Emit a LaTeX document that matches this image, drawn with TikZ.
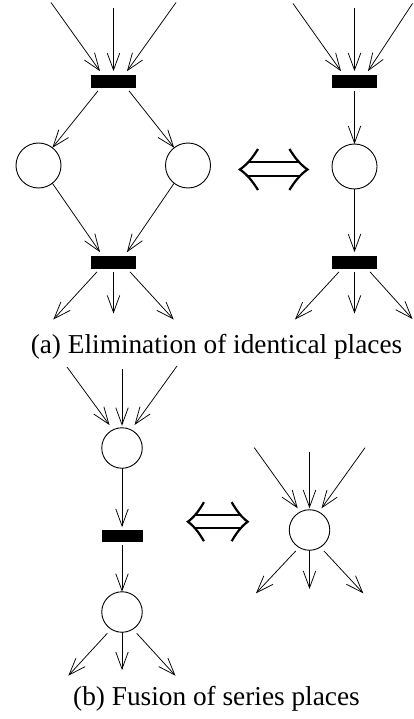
\documentclass[tikz,border=0pt]{standalone}
\usepackage{fontspec}
\setmainfont{Liberation Serif}
\usetikzlibrary{arrows.meta}

\begin{document}
\begin{tikzpicture}[x=1pt,y=-1pt,
  place/.style={circle, draw, line width=0.9pt, minimum size=45pt, inner sep=0pt, outer sep=0pt},
  smallplace/.style={place, minimum size=40.5pt},
  trans/.style={rectangle, fill=black, minimum width=45pt, minimum height=12.7pt, inner sep=0pt, outer sep=0pt},
  smalltrans/.style={trans, minimum width=41pt, minimum height=12pt},
  flow/.style={-{Straight Barb[length=17pt,width=12.5pt]}, line width=0.75pt},
  iffstroke/.style={line width=2.2pt, line join=miter},
  iffsign/.pic={
    % two curved heads and the double bar of the equivalence sign
    \draw[iffstroke] (-15.7,-20.5) .. controls (-21,-12) and (-26.5,-5) .. (-33.8,0)
                                   .. controls (-26.5,5) and (-21,12) .. (-15.7,20.5);
    \draw[iffstroke] (15.7,-20.5) .. controls (21,-12) and (26.5,-5) .. (33.8,0)
                                  .. controls (26.5,5) and (21,12) .. (15.7,20.5);
    \draw[line width=2pt] (-26,-7) -- (26,-7) (-26,7) -- (26,7);
  },
  caption/.style={font=\fontsize{27.3}{32}\selectfont, inner sep=0pt, anchor=base}]

\useasboundingbox (0,0) rectangle (413,719);

% ---------- (a) elimination of identical places: left net ----------
\node[trans] (ta1) at (113.5,81.5) {};
\coordinate (ia1) at (51,2.5);
\coordinate (ia2) at (113.5,8);
\coordinate (ia3) at (176,2.5);
\draw[flow] (ia1) -- ([xshift=-13.5pt,yshift=4pt]ta1.north);
\draw[flow] (ia2) -- ([yshift=4pt]ta1.north);
\draw[flow] (ia3) -- ([xshift=13.5pt,yshift=4pt]ta1.north);

\node[place] (pa1) at (38.5,165.5) {};
\node[place] (pa2) at (188,165.5) {};
\draw[flow] ([xshift=-15.5pt,yshift=-3pt]ta1.south) -- (pa1.52);
\draw[flow] ([xshift=15.5pt,yshift=-3pt]ta1.south) -- (pa2.128);

\node[trans] (ta2) at (113.5,262.5) {};
\draw[flow] (pa1.-52) -- ([xshift=-13.5pt,yshift=4pt]ta2.north);
\draw[flow] (pa2.232) -- ([xshift=13.5pt,yshift=4pt]ta2.north);

\coordinate (oa1) at (53.3,319.5);
\coordinate (oa2) at (113.5,313.5);
\coordinate (oa3) at (173.7,319.5);
\draw[flow] ([xshift=-16.5pt,yshift=-3pt]ta2.south) -- (oa1);
\draw[flow] ([yshift=-3pt]ta2.south) -- (oa2);
\draw[flow] ([xshift=16.5pt,yshift=-3pt]ta2.south) -- (oa3);

% equivalence sign
\pic at (273.7,169.5) {iffsign};

% ---------- (a) right net ----------
\node[trans] (tb1) at (354.5,81.5) {};
\coordinate (ib1) at (293,3.5);
\coordinate (ib2) at (354.5,8);
\coordinate (ib3) at (412.5,3.5);
\draw[flow] (ib1) -- ([xshift=-13.5pt,yshift=4pt]tb1.north);
\draw[flow] (ib2) -- ([yshift=4pt]tb1.north);
\draw[flow] (ib3) -- ([xshift=13.5pt,yshift=4pt]tb1.north);

\node[place] (pb1) at (354.5,166.5) {};
\draw[flow] ([yshift=-3pt]tb1.south) -- (pb1);

\node[trans] (tb2) at (354.5,262.5) {};
\draw[flow] (pb1) -- ([yshift=4pt]tb2.north);

\coordinate (ob1) at (295,319.5);
\coordinate (ob2) at (354.5,313.5);
\coordinate (ob3) at (412.5,319);
\draw[flow] ([xshift=-15.5pt,yshift=-3pt]tb2.south) -- (ob1);
\draw[flow] ([yshift=-3pt]tb2.south) -- (ob2);
\draw[flow] ([xshift=15.5pt,yshift=-3pt]tb2.south) -- (ob3);

\node[caption] (capa) at (216.5,353) {(a) Elimination of identical places};

% ---------- (b) fusion of series places: left net ----------
\node[smallplace] (pc1) at (122,448) {};
\coordinate (ic1) at (67,367);
\coordinate (ic2) at (122,369);
\coordinate (ic3) at (177,366);
\draw[flow] (ic1) -- ([xshift=-12.5pt,yshift=23pt]pc1.center);
\draw[flow] (ic2) -- ([yshift=2pt]pc1.north);
\draw[flow] (ic3) -- ([xshift=12.5pt,yshift=23pt]pc1.center);

\node[smalltrans] (tc) at (122,536) {};
\draw[flow] (pc1) -- ([yshift=3pt]tc.north);

\node[smallplace] (pc2) at (122,612) {};
\draw[flow] ([yshift=-3pt]tc.south) -- (pc2);

\coordinate (oc1) at (68.3,675.7);
\coordinate (oc2) at (122,670);
\coordinate (oc3) at (175.5,675.7);
\draw[flow] ([xshift=-14.7pt,yshift=-21.3pt]pc2.center) -- (oc1);
\draw[flow] (pc2) -- (oc2);
\draw[flow] ([xshift=14.7pt,yshift=-21.3pt]pc2.center) -- (oc3);

% equivalence sign
\pic[xscale=0.884, yscale=0.95] at (217.8,521.7) {iffsign};

% ---------- (b) right net ----------
\node[smallplace] (pd) at (309.5,530) {};
\coordinate (id1) at (254.3,447.7);
\coordinate (id2) at (309.5,451.7);
\coordinate (id3) at (365,447.7);
\draw[flow] (id1) -- ([xshift=-11.8pt,yshift=21.7pt]pd.center);
\draw[flow] (id2) -- ([yshift=1.5pt]pd.north);
\draw[flow] (id3) -- ([xshift=12pt,yshift=21.7pt]pd.center);

\coordinate (od1) at (256,593.3);
\coordinate (od2) at (309.5,589);
\coordinate (od3) at (363.3,593.3);
\draw[flow] ([xshift=-13.8pt,yshift=-21pt]pd.center) -- (od1);
\draw[flow] (pd) -- (od2);
\draw[flow] ([xshift=14.5pt,yshift=-21pt]pd.center) -- (od3);

\node[caption] (capb) at (216.5,705) {(b) Fusion of series places};

\end{tikzpicture}
\end{document}
